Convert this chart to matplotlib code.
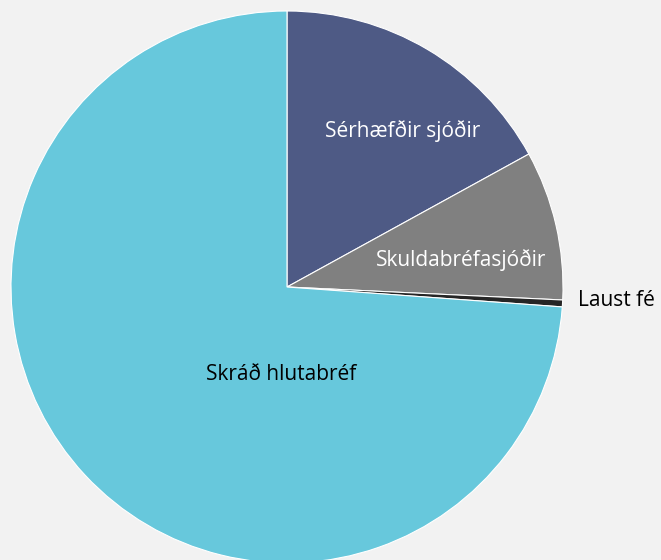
import matplotlib
matplotlib.use("Agg")
import matplotlib.pyplot as plt

labels = ["Sérhæfðir sjóðir", "Skuldabréfasjóðir", "Laust fé", "Skráð hlutabréf"]
values = [17.0, 8.75, 0.4, 73.85]
colors = ["#4e5a85", "#808080", "#262626", "#67c8dc"]
text_colors = ["white", "white", "black", "black"]

plt.rcParams['font.family'] = ['Open Sans', 'DejaVu Sans']

fig = plt.figure(figsize=(6.61, 5.60), dpi=100, facecolor="#f2f2f2")
ax = fig.add_axes([0, 0, 1, 1])
ax.set_facecolor("#f2f2f2")

r = 276.0
cx, cy = 287.0, 287.0
ax.pie(values, colors=colors, startangle=90, counterclock=False,
       wedgeprops=dict(edgecolor="white", linewidth=0.8))
ax.set_xlim(-cx / r, (661 - cx) / r)
ax.set_ylim(-(560 - cy) / r, cy / r)
ax.set_aspect("equal")
ax.axis("off")

# label spots (pixels in the picture -> data units)
spots = [(403, 131, "center"), (461, 260, "center"), (578, 300, "left"), (281, 374, "center")]
for lab, tc, (px, py, ha) in zip(labels, text_colors, spots):
    ax.text((px - cx) / r, (cy - py) / r, lab, color=tc, fontsize=15,
            ha=ha, va="center")

fig.savefig("out.png", dpi=100, facecolor=fig.get_facecolor())
